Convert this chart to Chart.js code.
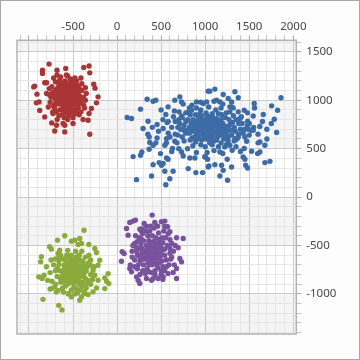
<!DOCTYPE html>
<html>
<head>
<meta charset="utf-8">
<script src="https://cdn.jsdelivr.net/npm/chart.js@4"></script>
<style>
  html, body { margin: 0; padding: 0; background: #fcfdfc; }
  #frame { width: 360px; height: 360px; box-sizing: border-box; border: 1px solid #a8a8a8; }
  canvas { display: block; }
</style>
</head>
<body>
<div id="frame"><canvas id="chart" width="358" height="358"></canvas></div>
<script>
// axis ranges and label steps
const xRange = [-1136, 2034];
const yRange = [-1414, 1619];
const majorStep = 500;
const minorStep = 100;
const xLabels = [-500, 0, 500, 1000, 1500, 2000];
const yLabels = [-1000, -500, 0, 500, 1000, 1500];

// cluster values [x, y]
const redPoints = [
  [-772,1373],[-847,1311],[-847,1277],[-682,1311],[-682,1260],[-583,1329],[-575,1260],[-378,1339],[-318,1353],[-310,1283],
  [-935,1146],[-946,1138],[-821,1180],[-909,1063],[-265,1166],[-250,1125],[-216,1035],[-886,983],[-916,973],[-234,973],
  [-878,895],[-291,915],[-821,828],[-727,863],[-742,766],[-688,742],[-594,742],[-613,760],[-708,683],[-594,673],
  [-500,760],[-386,801],[-329,794],[-310,649],[-461,863],[-318,863],
  [-560,1020],[-600,1050],[-520,990],[-640,980],[-480,1060],[-590,940],[-530,1110],[-670,1070],[-450,980],[-610,1130],
  [-700,1010],[-500,900],[-560,1170],[-420,1040],[-650,900],[-580,870],[-470,1140],[-720,940],[-540,960],[-620,1010],
  [-510,1050],[-580,1090],[-660,1150],[-440,920],[-700,1100],[-400,1100],[-750,1030],[-590,1200],[-480,860],[-620,850],
  [-530,1220],[-690,880],[-420,970],[-760,980],[-380,1030],[-650,1210],[-460,1200],[-560,900],[-600,980],[-500,1140],
  [-540,1070],[-680,1030],[-470,1010],[-610,920],[-570,1130],[-730,1080],[-410,880],[-640,1100],[-490,950],[-550,840],
  [-710,920],[-380,950],[-520,1180],[-590,1030],[-450,1090],[-770,1120],[-660,840],[-400,1170],[-530,930],[-620,1060],
  [-360,1000],[-700,1190],[-500,1000],[-580,960],[-440,1150],[-660,960],[-560,1060],[-480,1100],[-640,1040],[-520,870],
  [-580,1000],[-540,1030],[-600,1070],[-520,1090],[-560,950],[-620,950],[-500,1070],[-460,1040],[-650,1010],[-590,1160],
  [-540,1140],[-500,960],[-450,940],[-680,1120],[-720,1050],[-620,900],[-560,1110],[-470,900],[-430,1010],[-690,990],
  [-510,1020],[-610,1090],[-570,1040],[-530,1000],[-640,1160],[-480,1170],[-420,1110],[-740,1140],[-770,1060],[-600,1180],
  [-550,910],[-580,1150],[-660,1090],[-470,970],[-510,1110],[-590,1010],[-630,1120],[-540,880],[-440,1060],[-700,960],
  [-490,1180],[-660,1180],[-400,1000],[-350,1070],[-370,920],[-730,880],[-600,820],[-500,820],[-430,850],[-680,800],
  [-560,800],[-780,930],[-800,1070],[-640,1240],[-560,1250],[-480,1230],[-360,1130],[-410,1230],[-720,1230],[-800,1180]
];

const bluePoints = [
  [114,822],[164,811],[341,1011],[409,990],[440,1001],[266,908],[295,708],[352,783],[454,749],[364,621],
  [371,563],[409,535],[364,494],[454,611],[182,418],[266,432],[281,466],[409,335],[493,449],[477,356],
  [504,328],[523,346],[561,404],[579,390],[542,266],[391,217],[220,180],[553,128],[599,190],[636,266],
  [579,932],[655,1001],[712,1035],[732,983],[553,853],[568,770],[523,708],[561,604],[542,535],[655,576],
  [629,501],[732,466],[750,424],[807,294],[894,253],[970,253],[826,404],[883,404],[996,414],[1022,460],
  [1034,311],[902,983],[977,967],[1016,983],[1034,1094],[845,897],[826,915],[807,874],[704,880],[732,838],
  [1053,1094],[1110,1115],[1204,1060],[1337,1087],[1129,1001],[1167,983],[1261,1018],[1300,983],[1280,932],[1318,921],
  [1375,1025],[1443,897],[1375,880],[1394,811],[1556,967],[1659,853],[1545,838],[1754,942],[1822,897],[1860,1025],
  [1784,804],[1481,783],[1811,667],[1488,701],[1545,690],[1621,569],[1678,535],[1470,576],[1527,473],[1595,449],
  [1621,466],[1443,501],[1431,414],[1451,390],[1678,356],[1735,369],[1459,328],[1481,300],[1300,311],[1186,328],
  [1204,276],[1110,335],[1042,321],[1167,217],[1254,173],[1027,390],[1337,604],[1375,621],[1223,518],[1280,535],
  [1306,483],[1167,466],
  [1000,720],[950,760],[1050,690],[900,700],[1100,740],[980,650],[1020,800],[870,780],[1150,700],[1080,620],
  [930,630],[1200,760],[820,720],[1060,770],[960,840],[1130,810],[890,850],[1250,690],[780,660],[1010,600],
  [1170,640],[850,610],[1230,820],[940,700],[1070,730],[990,780],[1120,670],[880,740],[1040,650],[1190,720],
  [800,800],[960,590],[1280,750],[920,810],[1100,580],[760,740],[1150,860],[1010,870],[850,680],[1210,600],
  [1300,640],[740,620],[1060,830],[890,570],[1160,780],[980,710],[1030,740],[930,760],[1090,700],[1240,870],
  [700,800],[830,850],[1330,720],[1180,560],[860,530],[1000,520],[720,700],[1260,580],[1120,900],[950,900],
  [780,870],[1050,560],[1350,800],[690,640],[1210,680],[900,650],[1140,620],[1020,690],[970,740],[1070,790],
  [620,720],[640,830],[680,560],[600,620],[1400,700],[1420,760],[1380,650],[1450,620],[1500,760],[1550,720],
  [1600,650],[1650,780],[1700,700],[520,800],[470,680],[440,560],[560,560],[500,900],[1480,870],[1560,920],
  [1300,930],[1200,960],[1100,990],[950,980],[850,950],[750,960],[650,890],[800,500],[900,460],[1100,480],
  [1200,450],[1350,520],[700,500],[620,470],[1000,420],[1250,390],[1400,470],[1600,560],[1700,600],[400,720],
  [350,650],[1750,760],[1500,640],[580,660],[1330,580],
  [980,760],[1040,710],[1010,660],[930,720],[1080,760],[1120,720],[900,770],[1170,760],[1060,640],[960,680],
  [1100,660],[1190,690],[870,700],[1030,780],[1140,750],[920,680],[1000,800],[1070,680],[1150,730],[1230,730],
  [840,760],[1260,720],[990,620],[1090,820],[1030,620],[950,800],[1180,800],[1270,800],[880,620],[820,660],
  [1130,590],[1220,640],[1010,750],[960,730],[1050,740],[1110,780],[1200,700],[910,600],[1080,860],[860,800],
  [800,690],[780,780],[1290,690],[1310,770],[1160,670],[1240,660],[1020,840],[940,860],[1190,850],[1140,700],
  [1260,620],[830,590],[760,690],[1060,600],[1320,840],[1380,760],[1340,680],[710,760],[740,820],[1410,830],
  [1450,700],[1430,660],[1360,600],[690,720],[660,650],[1280,880],[1180,920],[1040,930],[900,920],[820,920],
  [1080,540],[950,540],[1240,540],[1150,520],[760,580],[1520,690],[1480,740],[660,780],[580,780],[1620,730]
];

const greenPoints = [
  [-375,-342],[-594,-400],[-677,-445],[-518,-455],[-481,-445],[-424,-427],[-404,-479],[-443,-490],[-321,-490],[-765,-513],
  [-745,-538],[-253,-531],[-234,-572],[-651,-549],[-670,-583],[-859,-617],[-867,-669],[-889,-824],[-852,-841],[-829,-807],
  [-802,-720],[-197,-652],[-216,-704],[-102,-790],[-140,-834],[-120,-869],[-216,-859],[-94,-893],[-708,-927],[-745,-945],
  [-670,-963],[-557,-997],[-518,-1031],[-367,-997],[-329,-1007],[-273,-979],[-404,-1031],[-424,-1066],[-234,-938],[-841,-1056],
  [-662,-1118],[-625,-1165],[-140,-945],[-299,-704],[-273,-756],[-253,-807],
  [-480,-760],[-520,-720],[-440,-800],[-560,-780],[-400,-740],[-500,-840],[-460,-680],[-600,-740],[-380,-820],[-540,-880],
  [-430,-900],[-620,-820],[-350,-760],[-580,-660],[-470,-620],[-660,-700],[-510,-790],[-420,-660],[-550,-710],[-390,-880],
  [-640,-880],[-700,-760],[-300,-800],[-490,-930],[-570,-600],[-330,-680],[-450,-850],[-610,-640],[-520,-650],[-680,-820],
  [-410,-960],[-360,-620],[-590,-920],[-470,-720],[-530,-820],[-440,-740],[-500,-700],[-560,-850],[-420,-780],[-380,-700],
  [-650,-760],[-720,-700],[-740,-870],[-300,-900],[-320,-600],[-470,-560],[-560,-550],[-400,-560],[-660,-620],[-520,-960],
  [-610,-980],[-450,-990],[-350,-940],[-700,-640],[-480,-800],[-540,-760],[-430,-830],[-590,-800],[-370,-780],[-500,-890],
  [-490,-750],[-460,-770],[-510,-770],[-470,-790],[-530,-740],[-450,-720],[-500,-810],[-540,-800],[-420,-710],[-560,-740],
  [-480,-700],[-440,-860],[-520,-860],[-580,-830],[-400,-780],[-360,-840],[-620,-780],[-600,-700],[-540,-680],[-500,-650],
  [-440,-640],[-390,-660],[-340,-720],[-330,-860],[-480,-880],[-560,-900],[-640,-840],[-680,-740],[-460,-950],[-400,-920],
  [-620,-940],[-700,-900],[-760,-780],[-750,-650],[-640,-600],[-520,-600],[-300,-650],[-280,-850],[-370,-980],[-550,-1000],
  [-500,-760],[-460,-830],[-530,-700],[-410,-820],[-580,-760],[-440,-780],[-490,-850],[-520,-800],[-470,-660],[-380,-750],
  [-600,-870],[-660,-660],[-350,-900],[-760,-950],[-260,-720],[-790,-860],[-430,-600],[-560,-620],[-690,-980],[-480,-1000]
];

const purplePoints = [
  [398,-186],[144,-262],[182,-248],[209,-238],[307,-272],[428,-262],[504,-255],[542,-248],[107,-324],[258,-331],
  [277,-352],[573,-306],[599,-358],[675,-420],[750,-427],[125,-393],[693,-524],[57,-565],[80,-583],[50,-662],
  [712,-634],[732,-669],[144,-738],[164,-772],[675,-738],[636,-779],[220,-824],[239,-859],[334,-841],[391,-859],
  [466,-841],[523,-824],[258,-893],[675,-841],[579,-790],
  [390,-550],[350,-510],[430,-590],[320,-580],[460,-520],[380,-640],[410,-460],[280,-530],[500,-600],[350,-680],
  [450,-690],[260,-620],[540,-540],[400,-400],[300,-450],[480,-440],[220,-560],[560,-650],[340,-740],[430,-760],
  [520,-720],[240,-700],[600,-580],[370,-350],[470,-370],[290,-380],[200,-480],[620,-480],[360,-600],[410,-520],
  [440,-640],[330,-550],[500,-520],[270,-480],[550,-420],[380,-470],[310,-640],[480,-680],[420,-580],[360,-450],
  [250,-420],[590,-700],[200,-650],[290,-760],[390,-780],[500,-800],[170,-560],[640,-560],[420,-320],[330,-300],
  [530,-350],[580,-380],[210,-400],[610,-640],[400,-700],[460,-600],[340,-620],[280,-580],[520,-470],[230,-740],
  [400,-560],[370,-580],[420,-540],[360,-530],[440,-560],[390,-610],[340,-590],[470,-580],[300,-560],[420,-620],
  [450,-500],[380,-500],[330,-500],[480,-630],[410,-670],[370,-700],[460,-730],[300,-700],[260,-660],[230,-600],
  [250,-530],[510,-660],[540,-600],[570,-500],[510,-420],[440,-420],[350,-400],[270,-430],[230,-460],[600,-530],
  [620,-620],[560,-720],[500,-760],[320,-790],[260,-800],[430,-800],[200,-720],[170,-620],[180,-500],[330,-350],
  [380,-300],[460,-300],[540,-300],[500,-560],[390,-660],[350,-640],[430,-470],[480,-480],[310,-610],[280,-640],
  [360,-770],[540,-760],[600,-440],[220,-520],[520,-850],[410,-840],[650,-700],[150,-700],[660,-500],[280,-330]
];

const seriesColors = ['#a93535', '#3d6ba6', '#8aab3c', '#79529e'];

function toXY(list) {
  return list.map(p => ({ x: p[0], y: p[1] }));
}

function makeTicks(scale) {
  const ticks = [];
  for (let v = Math.ceil(scale.min / minorStep) * minorStep; v <= scale.max; v += minorStep) {
    ticks.push({ value: v });
  }
  scale.ticks = ticks;
}

const gridColor = ctx => (ctx.tick && ctx.tick.value % majorStep === 0) ? '#c9c9c9' : '#e6e6e6';
const tickColor = ctx => (ctx.tick && ctx.tick.value % majorStep === 0) ? '#a9a9a9' : '#c2c2c2';

// alternating grey bands + white plot background
const bandPlugin = {
  id: 'bands',
  beforeDraw(chart) {
    const { ctx, chartArea: a, scales: { y } } = chart;
    ctx.save();
    ctx.fillStyle = '#ffffff';
    ctx.fillRect(a.left, a.top, a.right - a.left, a.bottom - a.top);
    ctx.fillStyle = '#f4f5f4';
    for (let v = Math.floor(y.min / majorStep) * majorStep; v < y.max; v += majorStep) {
      if (Math.abs(Math.floor(v / majorStep)) % 2 === 1) {
        const top = y.getPixelForValue(Math.min(v + majorStep, y.max));
        const bottom = y.getPixelForValue(Math.max(v, y.min));
        ctx.fillRect(a.left, top, a.right - a.left, bottom - top);
      }
    }
    ctx.restore();
  },
  afterDraw(chart) {
    const { ctx, chartArea: a } = chart;
    ctx.save();
    ctx.strokeStyle = '#b2b2b2';
    ctx.lineWidth = 1.5;
    ctx.strokeRect(a.left, a.top, a.right - a.left, a.bottom - a.top);
    ctx.restore();
  }
};

const font = { family: 'Noto Sans', size: 11.5 };

new Chart(document.getElementById('chart'), {
  type: 'scatter',
  data: {
    datasets: [redPoints, bluePoints, greenPoints, purplePoints].map((pts, i) => ({
      data: toXY(pts),
      backgroundColor: seriesColors[i],
      borderWidth: 0,
      pointRadius: 2.7,
      pointHoverRadius: 2.7
    }))
  },
  options: {
    responsive: false,
    animation: false,
    devicePixelRatio: 1,
    layout: { padding: { left: 16, right: 0, top: 0, bottom: 25 } },
    plugins: { legend: { display: false }, tooltip: { enabled: false } },
    scales: {
      x: {
        type: 'linear',
        position: 'top',
        min: xRange[0],
        max: xRange[1],
        afterBuildTicks: makeTicks,
        afterFit: s => { s.height = 39.3; },
        grid: { color: gridColor, tickColor: tickColor, tickLength: 5, lineWidth: 1 },
        border: { display: false },
        ticks: { autoSkip: false, maxRotation: 0, padding: 2, color: '#454545', font: font,
                 callback: v => xLabels.includes(v) ? v : '' }
      },
      y: {
        type: 'linear',
        position: 'right',
        min: yRange[0],
        max: yRange[1],
        afterBuildTicks: makeTicks,
        afterFit: s => { s.width = 62.7; },
        grid: { color: gridColor, tickColor: tickColor, tickLength: 5, lineWidth: 1 },
        border: { display: false },
        ticks: { autoSkip: false, padding: 5, color: '#454545', font: font,
                 callback: v => yLabels.includes(v) ? v : '' }
      }
    }
  },
  plugins: [bandPlugin]
});
</script>
</body>
</html>
